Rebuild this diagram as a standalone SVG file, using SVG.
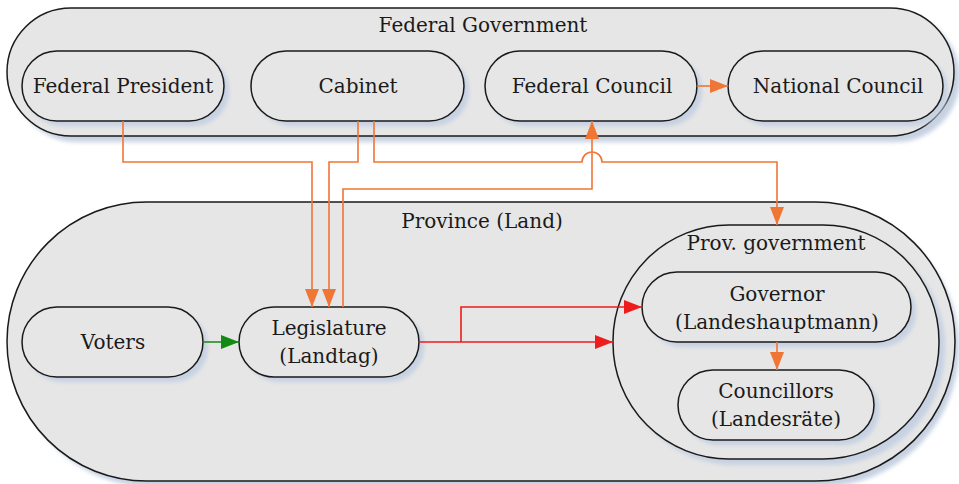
<svg xmlns="http://www.w3.org/2000/svg" width="959" height="484" viewBox="0 0 959 484">
<style>
.box{fill:#e6e6e6;stroke:#1a1a1a;stroke-width:1.5}
.sh{fill:#c6d1e2;filter:url(#blur)}
.t{font-family:"DejaVu Serif","Liberation Serif",serif;font-size:20px;fill:#1a1a1a;text-anchor:middle}
.o{fill:none;stroke:#f07636;stroke-width:1.6}
.r{fill:none;stroke:#ee1c1c;stroke-width:1.6}
.g{fill:none;stroke:#138a13;stroke-width:1.6}
</style>
<defs>
<filter id="blur" x="-10%" y="-10%" width="120%" height="120%"><feGaussianBlur stdDeviation="2"/></filter>
<marker id="ao" markerUnits="userSpaceOnUse" markerWidth="18" markerHeight="14" refX="18" refY="7" orient="auto"><path d="M0,0 L18,7 L0,14 z" fill="#f07636"/></marker>
<marker id="ar" markerUnits="userSpaceOnUse" markerWidth="18" markerHeight="14" refX="18" refY="7" orient="auto"><path d="M0,0 L18,7 L0,14 z" fill="#ee1c1c"/></marker>
<marker id="ag" markerUnits="userSpaceOnUse" markerWidth="18" markerHeight="14" refX="18" refY="7" orient="auto"><path d="M0,0 L18,7 L0,14 z" fill="#138a13"/></marker>
</defs>
<rect width="959" height="484" fill="#ffffff"/>

<g id="federal-government">
<rect class="sh" x="13" y="14" width="947" height="128" rx="64"/>
<rect class="box" x="7" y="8" width="947" height="128" rx="64"/>
<text class="t" x="483" y="32">Federal Government</text>
</g>
<g id="federal-president">
<rect class="sh" x="27" y="56" width="202" height="70" rx="35"/>
<rect class="box" x="22" y="51" width="202" height="70" rx="35"/>
<text class="t" x="123" y="93">Federal President</text>
</g>
<g id="cabinet">
<rect class="sh" x="256" y="56" width="213" height="70" rx="35"/>
<rect class="box" x="251" y="51" width="213" height="70" rx="35"/>
<text class="t" x="358" y="93">Cabinet</text>
</g>
<g id="federal-council">
<rect class="sh" x="490" y="56" width="212" height="70" rx="35"/>
<rect class="box" x="485" y="51" width="212" height="70" rx="35"/>
<text class="t" x="592" y="93">Federal Council</text>
</g>
<g id="national-council">
<rect class="sh" x="733" y="56" width="215" height="70" rx="35"/>
<rect class="box" x="728" y="51" width="215" height="70" rx="35"/>
<text class="t" x="838" y="93">National Council</text>
</g>

<g id="province">
<rect class="sh" x="13" y="208" width="946" height="279" rx="139.5"/>
<rect class="box" x="7" y="202" width="948" height="279" rx="139.5"/>
<text class="t" x="482" y="228">Province (Land)</text>
</g>
<g id="prov-government">
<rect class="sh" x="619" y="231" width="326" height="234" rx="116"/>
<rect class="box" x="613" y="225" width="326" height="234" rx="116"/>
<text class="t" x="776" y="250">Prov. government</text>
</g>
<g id="voters">
<rect class="sh" x="27" y="312" width="181" height="70" rx="35"/>
<rect class="box" x="22" y="307" width="181" height="70" rx="35"/>
<text class="t" x="113" y="349">Voters</text>
</g>
<g id="legislature">
<rect class="sh" x="244" y="312" width="180" height="70" rx="35"/>
<rect class="box" x="239" y="307" width="180" height="70" rx="35"/>
<text class="t" x="329" y="335">Legislature</text>
<text class="t" x="329" y="363">(Landtag)</text>
</g>
<g id="governor">
<rect class="sh" x="647" y="277" width="269" height="70" rx="35"/>
<rect class="box" x="642" y="272" width="269" height="70" rx="35"/>
<text class="t" x="777" y="301">Governor</text>
<text class="t" x="777" y="329">(Landeshauptmann)</text>
</g>
<g id="councillors">
<rect class="sh" x="683" y="375" width="196" height="70" rx="35"/>
<rect class="box" x="678" y="370" width="196" height="70" rx="35"/>
<text class="t" x="776" y="398">Councillors</text>
<text class="t" x="776" y="426">(Landesräte)</text>
</g>

<g id="connectors">
<path class="o" d="M123,121 V162 H312 V307" marker-end="url(#ao)"/>
<path class="o" d="M358,121 V162 H329 V307" marker-end="url(#ao)"/>
<path class="o" d="M374,121 V162 H582 A10,10 0 0 1 602,162 H777 V225" marker-end="url(#ao)"/>
<path class="o" d="M343,307 V189 H592 V121" marker-end="url(#ao)"/>
<path class="o" d="M697,86 H728" marker-end="url(#ao)"/>
<path class="o" d="M777,342 V370" marker-end="url(#ao)"/>
<path class="g" d="M203,342 H239" marker-end="url(#ag)"/>
<path class="r" d="M419,342 H613" marker-end="url(#ar)"/>
<path class="r" d="M461,342 V307 H642" marker-end="url(#ar)"/>
</g>
</svg>
